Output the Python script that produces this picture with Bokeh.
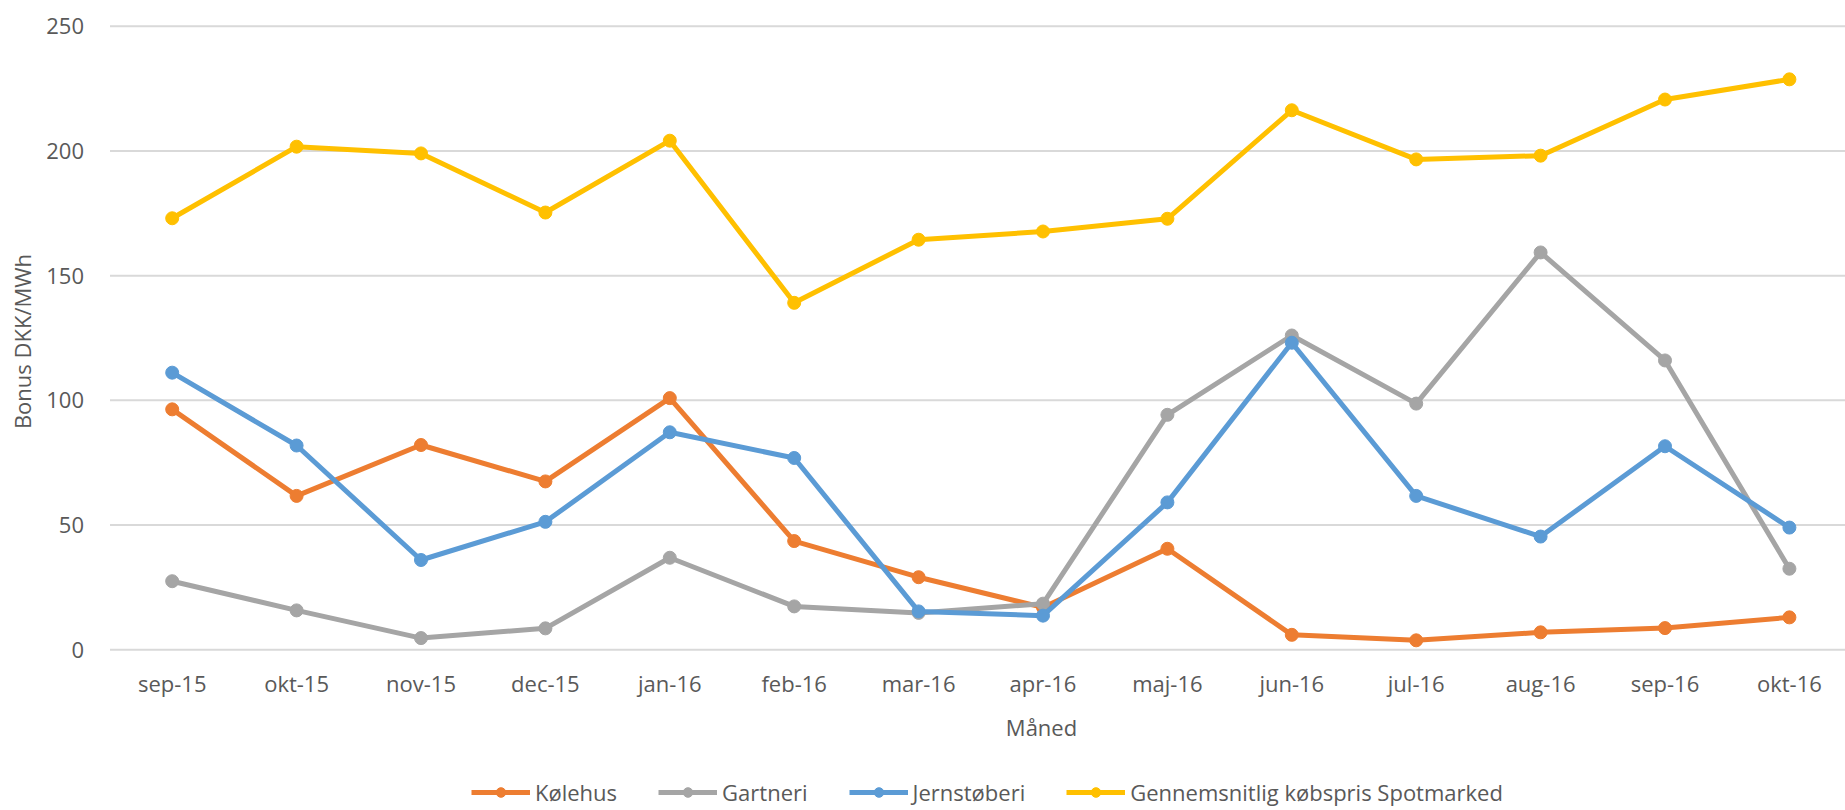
import math
from bokeh.plotting import figure
from bokeh.models import Range1d, FixedTicker, Legend, LegendItem, Label, LinearAxis
from bokeh.embed import file_html
from bokeh.resources import INLINE

months = ["sep-15", "okt-15", "nov-15", "dec-15", "jan-16", "feb-16", "mar-16",
          "apr-16", "maj-16", "jun-16", "jul-16", "aug-16", "sep-16", "okt-16"]
kolehus = [96.4, 61.7, 82.1, 67.5, 100.9, 43.6, 29.1, 17.0, 40.5, 6.0, 3.8, 7.0, 8.7, 13.0]
gartneri = [27.5, 15.8, 4.7, 8.6, 36.9, 17.4, 14.8, 18.5, 94.2, 126.0, 98.7, 159.3, 116.0, 32.5]
jernstoberi = [111.1, 81.9, 36.0, 51.3, 87.2, 76.9, 15.4, 13.7, 59.1, 123.1, 61.7, 45.4, 81.6, 49.0]
spot = [173.0, 201.7, 199.0, 175.3, 204.1, 139.1, 164.4, 167.7, 172.8, 216.3, 196.6, 198.1, 220.6, 228.7]
series_names = ["Kølehus", "Gartneri", "Jernstøberi", "Gennemsnitlig købspris Spotmarked"]
colors = ["#ED7D31", "#A5A5A5", "#5B9BD5", "#FFC000"]
y_ticks = [0, 50, 100, 150, 200, 250]
y_title = "Bonus DKK/MWh"
x_title = "Måned"

FONT = "Open Sans"
TXT = "#595959"
FS = "22px"
x = list(range(len(months)))
x_lo, x_hi = -0.5, len(months) - 0.5

W, H = 1845, 810
px_x = 124.4          # pixels per category
left_px = 109.5       # canvas-left to first category edge
px_y = 623.6 / 250.0  # pixels per unit
top_px, zero_px = 25.7, 649.3

p = figure(width=W, height=H, output_backend="svg", toolbar_location=None,
           x_axis_location=None, y_axis_location=None,
           x_range=Range1d(x_lo - left_px / px_x, x_lo + (W - left_px) / px_x),
           y_range=Range1d(-(H - zero_px) / px_y, 250 + top_px / px_y),
           min_border_left=0, min_border_right=0, min_border_top=0, min_border_bottom=0)
p.outline_line_color = None
p.background_fill_color = "white"
p.border_fill_color = "white"
p.xgrid.grid_line_color = None
p.ygrid.grid_line_color = None

# horizontal gridlines over the category extent
p.segment(x0=[x_lo] * len(y_ticks), x1=[x_hi] * len(y_ticks), y0=y_ticks, y1=y_ticks,
          line_color="#D9D9D9", line_width=2)

xaxis = LinearAxis(fixed_location=0, ticker=FixedTicker(ticks=x),
                   major_label_overrides={i: m for i, m in enumerate(months)})
yaxis = LinearAxis(fixed_location=x_lo, ticker=FixedTicker(ticks=y_ticks), bounds=(0, 250))
for ax in (xaxis, yaxis):
    ax.axis_line_color = None
    ax.major_tick_line_color = None
    ax.minor_tick_line_color = None
    ax.major_label_text_font = FONT
    ax.major_label_text_font_size = FS
    ax.major_label_text_color = TXT
xaxis.major_label_standoff = 12
yaxis.major_label_standoff = 20
p.add_layout(xaxis, "below")
p.add_layout(yaxis, "left")

items = []
for name, vals, col in zip(series_names, [kolehus, gartneri, jernstoberi, spot], colors):
    r1 = p.line(x, vals, line_color=col, line_width=5)
    r2 = p.scatter(x, vals, size=13, fill_color=col, line_color=col)
    items.append(LegendItem(label=name, renderers=[r1, r2]))

legend = Legend(items=items, orientation="horizontal", location=(471, 3),
                border_line_color=None, background_fill_alpha=0,
                label_text_font=FONT, label_text_font_size=FS, label_text_color=TXT,
                glyph_width=59, glyph_height=24, label_height=24, label_standoff=5,
                spacing=41, padding=0, margin=0)
p.add_layout(legend, "center")

p.add_layout(Label(x=1041, y=84, x_units="screen", y_units="screen", text=x_title,
                   text_align="center", text_baseline="middle", text_font=FONT,
                   text_font_size=FS, text_color=TXT))
p.add_layout(Label(x=21, y=469, x_units="screen", y_units="screen", text=y_title,
                   angle=math.pi / 2, text_align="center", text_baseline="middle",
                   text_font=FONT, text_font_size=FS, text_color=TXT))

open("out.html", "w").write(file_html(p, INLINE))
